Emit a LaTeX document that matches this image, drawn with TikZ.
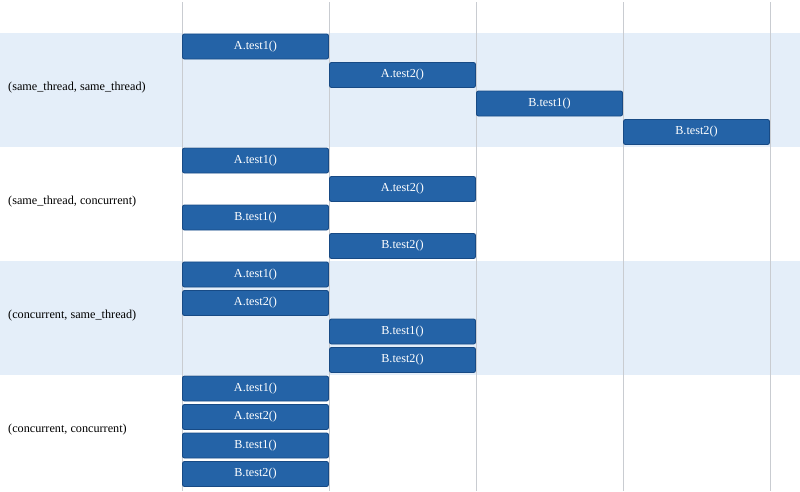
\documentclass[tikz,border=0pt]{standalone}
\usepackage{fontspec}
\setmainfont{Liberation Serif}
\definecolor{bandblue}{HTML}{E4EEF9}
\definecolor{barfill}{HTML}{2463A7}
\definecolor{bardraw}{HTML}{174A85}
\definecolor{gridgray}{HTML}{C9CCD1}
\begin{document}
\begin{tikzpicture}[x=1pt,y=-1pt,
  bar/.style={draw=bardraw,fill=barfill,line width=0.9pt,rounded corners=2pt,
    minimum width=146pt,minimum height=25pt,inner sep=0pt,text=white,font=\fontsize{12.2}{14}\selectfont},
  rowlabel/.style={anchor=west,inner sep=0pt,font=\fontsize{12.2}{14}\selectfont},
  gridline/.style={draw=gridgray,line width=1pt}]
\useasboundingbox (0,0) rectangle (800,491);
% bands
\fill[bandblue] (0,33) rectangle (800,147);
\fill[bandblue] (0,261) rectangle (800,375);
% grid lines
\foreach \gx in {182,329,476,623,770}{\draw[gridline] (\gx,2) -- (\gx,491);}
% labels
\node[rowlabel] (l1) at (8,88) {(same\_thread, same\_thread)};
\node[rowlabel] (l2) at (8,202) {(same\_thread, concurrent)};
\node[rowlabel] (l3) at (8,316) {(concurrent, same\_thread)};
\node[rowlabel] (l4) at (8,430) {(concurrent, concurrent)};
% band 1
\node[bar] (a1) at (255.5,46.5) {A.test1()};
\node[bar] (a2) at (402.5,75) {A.test2()};
\node[bar] (a3) at (549.5,103.5) {B.test1()};
\node[bar] (a4) at (696.5,132) {B.test2()};
% band 2
\node[bar] (b1) at (255.5,160.5) {A.test1()};
\node[bar] (b2) at (402.5,189) {A.test2()};
\node[bar] (b3) at (255.5,217.5) {B.test1()};
\node[bar] (b4) at (402.5,246) {B.test2()};
% band 3
\node[bar] (c1) at (255.5,274.5) {A.test1()};
\node[bar] (c2) at (255.5,303) {A.test2()};
\node[bar] (c3) at (402.5,331.5) {B.test1()};
\node[bar] (c4) at (402.5,360) {B.test2()};
% band 4
\node[bar] (d1) at (255.5,388.5) {A.test1()};
\node[bar] (d2) at (255.5,417) {A.test2()};
\node[bar] (d3) at (255.5,445.5) {B.test1()};
\node[bar] (d4) at (255.5,474) {B.test2()};
\end{tikzpicture}
\end{document}
